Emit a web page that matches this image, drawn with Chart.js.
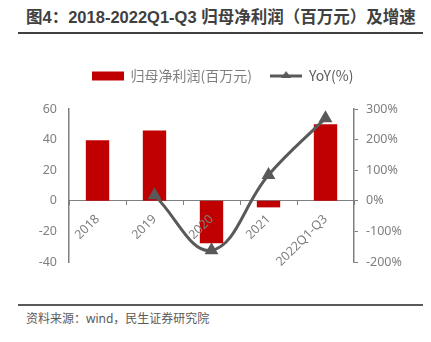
<!DOCTYPE html>
<html>
<head>
<meta charset="utf-8">
<script src="https://cdn.jsdelivr.net/npm/chart.js"></script>
<style>
    body { margin: 0; width: 431px; height: 342px; background: #fff; position: relative; overflow: hidden;
           font-family: "Noto Sans", "Noto Sans CJK SC", sans-serif; }
    #title { position: absolute; left: 26px; top: 4px; font-size: 16.5px; font-weight: bold; color: #404040; white-space: nowrap;
             font-family: "Liberation Sans", "Noto Sans CJK SC", sans-serif; }
    #tline { position: absolute; left: 18px; top: 32px; width: 405px; height: 2px; background: #404040; }
    #fline { position: absolute; left: 18px; top: 304px; width: 405px; height: 1.5px; background: #595959; }
    #source { position: absolute; left: 26px; top: 309px; font-size: 12px; color: #595959; white-space: nowrap; }
    #wrap { position: absolute; left: 0; top: 40px; width: 431px; height: 260px; }
</style>
</head>
<body>
<div id="title">图4：2018-2022Q1-Q3 归母净利润（百万元）及增速</div>
<div id="tline"></div>
<div id="wrap"><canvas id="chart"></canvas></div>
<div id="fline"></div>
<div id="source">资料来源：wind，民生证券研究院</div>

<script>
    const categories = ['2018', '2019', '2020', '2021', '2022Q1-Q3']
    const netProfit = [39.5, 46, -27.7, -4.3, 50]      // 归母净利润(百万元)
    const yoy = [null, 18, -162, 84, 270]               // YoY(%)
    const leftTicks = [-40, 60, 20]
    const rightTicks = [-200, 300, 100]

    const RED = '#C00000'
    const GRAY = '#595959'
    const LABEL = '#7f7f7f'
    const FONT = '"Noto Sans", "Noto Sans CJK SC", sans-serif'

    function legendIcon(kind) {
        const c = document.createElement('canvas')
        c.width = 32; c.height = 12
        const g = c.getContext('2d')
        if (kind === 'bar') {
            g.fillStyle = RED
            g.fillRect(0, 1.5, 32, 9)
        } else {
            g.strokeStyle = GRAY; g.lineWidth = 3
            g.beginPath(); g.moveTo(0, 6); g.lineTo(32, 6); g.stroke()
            g.fillStyle = GRAY
            g.beginPath(); g.moveTo(16, 1); g.lineTo(21, 8); g.lineTo(11, 8); g.closePath(); g.fill()
        }
        return c
    }

    // extra space under the legend
    const legendGap = {
        id: 'legendGap',
        beforeLayout(chart) {
            const lg = chart.legend
            if (lg && !lg._gapped) {
                const fit = lg.fit
                lg.fit = function () { fit.call(this); this.height += 16 }
                lg._gapped = true
            }
        }
    }

    new Chart(document.getElementById('chart'), {
        data: {
            labels: categories,
            datasets: [{
                type: 'line',
                label: 'YoY(%)',
                data: yoy,
                yAxisID: 'y1',
                borderColor: GRAY,
                backgroundColor: GRAY,
                borderWidth: 3,
                tension: 0.4,
                pointStyle: 'triangle',
                pointRadius: 5,
                order: 0
            }, {
                type: 'bar',
                label: '归母净利润(百万元)',
                data: netProfit,
                yAxisID: 'y',
                backgroundColor: RED,
                categoryPercentage: 1,
                barPercentage: 0.41,
                order: 1
            }]
        },
        plugins: [legendGap],
        options: {
            responsive: true,
            maintainAspectRatio: false,
            animation: false,
            layout: { padding: { top: 11, left: 14, right: 0, bottom: 38 } },
            plugins: {
                tooltip: { enabled: false },
                legend: {
                    position: 'top',
                    labels: {
                        usePointStyle: true,
                        pointStyleWidth: 32,
                        boxHeight: 12,
                        padding: 18,
                        font: { size: 14, family: '"Noto Sans CJK SC", sans-serif' },
                        generateLabels: chart => [
                            { text: '归母净利润(百万元)', pointStyle: legendIcon('bar'), fontColor: LABEL, datasetIndex: 1, lineWidth: 0, strokeStyle: 'transparent' },
                            { text: 'YoY(%)', pointStyle: legendIcon('line'), fontColor: GRAY, datasetIndex: 0, lineWidth: 0, strokeStyle: 'transparent' }
                        ]
                    }
                }
            },
            scales: {
                x: {
                    position: { y: 0 },
                    offset: true,
                    grid: { offset: true, drawOnChartArea: false, tickLength: 4, color: '#808080' },
                    border: { color: '#808080', width: 1 },
                    ticks: { z: 1, color: LABEL, minRotation: 45, maxRotation: 45, autoSkip: false, padding: 7,
                             font: { size: 12.5, family: FONT } }
                },
                y: {
                    position: 'left',
                    min: leftTicks[0], max: leftTicks[1],
                    afterFit: s => { s.width = 55 },
                    grid: { display: false, drawTicks: false },
                    border: { display: true, color: '#808080', width: 1.5 },
                    ticks: { stepSize: leftTicks[2], color: LABEL, padding: 12,
                             font: { size: 12.5, family: FONT } }
                },
                y1: {
                    position: 'right',
                    min: rightTicks[0], max: rightTicks[1],
                    afterFit: s => { s.width = 77 },
                    grid: { drawOnChartArea: false, tickLength: 4, color: '#808080' },
                    border: { display: true, color: '#808080', width: 1.5 },
                    ticks: { stepSize: rightTicks[2], color: LABEL, padding: 8,
                             callback: v => v + '%',
                             font: { size: 12.5, family: FONT } }
                }
            }
        }
    })
</script>
</body>
</html>
